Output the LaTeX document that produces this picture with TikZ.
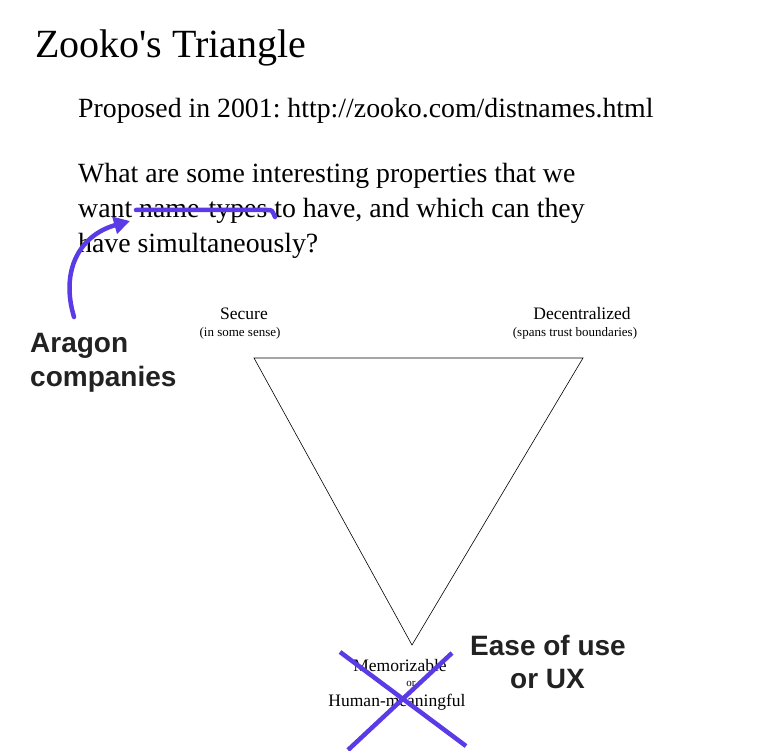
\documentclass[tikz,border=0pt]{standalone}
\usepackage{fontspec}
\setmainfont{Liberation Serif}
\newfontfamily\notefont{Liberation Sans}
\usetikzlibrary{arrows.meta}
\definecolor{pen}{HTML}{5A3BE6}
\definecolor{ink}{HTML}{222222}
\tikzset{
  txt/.style={inner sep=0pt, anchor=base west},
  ctxt/.style={inner sep=0pt, anchor=base},
  body/.style={font=\fontsize{27.8}{32}\selectfont},
  note/.style={inner sep=0pt, anchor=base west, text=ink, font=\notefont\bfseries\fontsize{28}{32}\selectfont},
  penline/.style={draw=pen, line width=4.5pt, line cap=round},
  corner/.style={font=\fontsize{17.5}{20}\selectfont},
  sub/.style={font=\fontsize{13}{15}\selectfont},
}
\frenchspacing
\begin{document}
\begin{tikzpicture}[x=1pt, y=-1pt]
\useasboundingbox (0,0) rectangle (769,751);

% heading and body text
\node[txt, font=\fontsize{40}{46}\selectfont] (title) at (35,58) {Zooko\textquotesingle s Triangle};
\node[txt, body] (prop) at (78,118) {Proposed in 2001: http://zooko.com/distnames.html};
\node[txt, body] (q1) at (78,183) {What are some interesting properties that we};
\node[txt, body] (q2) at (78,218) {want name-types to have, and which can they};
\node[txt, body] (q3) at (78,253) {have simultaneously?};

% the triangle
\coordinate (tl) at (254,358);
\coordinate (tr) at (583,358);
\coordinate (bt) at (412,645);
\draw[line width=0.6pt] (tl) -- (tr) -- (bt) -- cycle;

% corner labels
\node[ctxt, corner] (sec) at (244,320) {Secure};
\node[ctxt, sub] (secs) at (240,337) {(in some sense)};
\node[ctxt, corner] (dec) at (582,320) {Decentralized};
\node[ctxt, sub] (decs) at (575,337) {(spans trust boundaries)};
\node[ctxt, corner] (mem) at (400,671) {Memorizable};
\node[ctxt, font=\fontsize{11}{13}\selectfont] (or) at (411,686) {or};
\node[ctxt, corner] (hum) at (397,706) {Human-meaningful};

% handwritten annotations
\node[note] (aragon) at (30,353) {Aragon};
\node[note] (comp) at (30,387) {companies};
\node[note] (ease) at (470,655) {Ease of use};
\node[note] (ux) at (510,688) {or UX};

\coordinate (s1) at (136,210);
\coordinate (s2) at (267,210);
\coordinate (s3) at (275,217);
\draw[penline] (s1) -- (s2) .. controls (272,210) .. (s3);

\coordinate (a0) at (74,317);
\coordinate (a1) at (130,221);
\draw[penline, -{Triangle[length=16pt, width=17pt]}] (a0) .. controls (60,270) and (80,235) .. (a1);

\coordinate (x1) at (340,652);
\coordinate (x2) at (466,746);
\coordinate (x3) at (452,653);
\coordinate (x4) at (348,750);
\draw[penline, line cap=butt] (x1) -- (x2);
\draw[penline, line cap=butt] (x3) -- (x4);
\end{tikzpicture}
\end{document}
